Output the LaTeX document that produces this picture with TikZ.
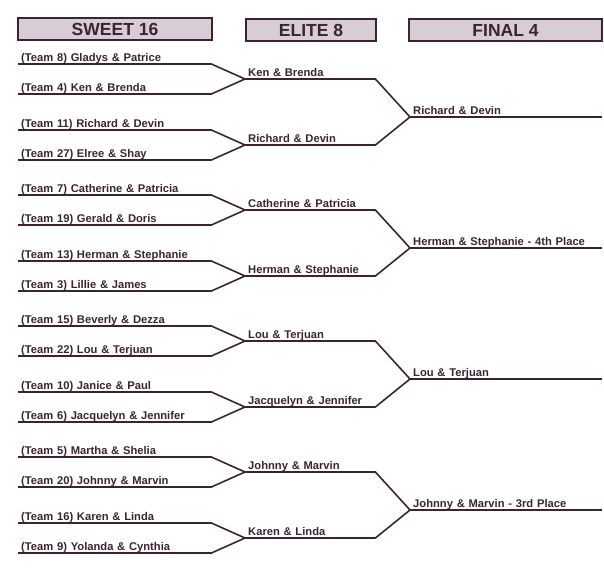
\documentclass[tikz,border=0pt]{standalone}
\usepackage{fontspec}
\setmainfont{Liberation Sans}
\usetikzlibrary{positioning}
\definecolor{ink}{HTML}{3A2430}
\definecolor{boxfill}{HTML}{D8CDD6}

\tikzset{
  slot/.style={anchor=south west,inner xsep=3pt,inner ysep=2.5pt,text height=8.5pt,text depth=0pt,
    font=\fontsize{11.2}{13}\selectfont\bfseries,text=ink,align=left},
  sixteen/.style={slot,minimum width=193pt,text width=187pt},
  eight/.style={slot,minimum width=130pt,text width=124pt},
  four/.style={slot,minimum width=192pt,text width=186pt},
  head/.style={draw=ink,line width=1.6pt,fill=boxfill,inner sep=0pt,text=ink,
    font=\fontsize{17.5}{20}\selectfont\bfseries},
  bline/.style={draw=ink,line width=1.6pt,line join=round}
}

\begin{document}
\begin{tikzpicture}[x=1pt,y=-1pt]
\useasboundingbox (0,0) rectangle (604,567);

\node (h16) [head,minimum width=194pt,minimum height=22pt] at (115,29) {SWEET 16};
\node (h8) [head,minimum width=130pt,minimum height=22pt] at (311,30) {ELITE 8};
\node (h4) [head,minimum width=193pt,minimum height=22pt] at (505.5,30) {FINAL 4};

\node (t8) [sixteen] at (18,64) {(Team 8) Gladys \& Patrice};
\node (t4) [sixteen] at (18,94) {(Team 4) Ken \& Brenda};
\node (t11) [sixteen] at (18,130) {(Team 11) Richard \& Devin};
\node (t27) [sixteen] at (18,160) {(Team 27) Elree \& Shay};
\node (t7) [sixteen] at (18,195) {(Team 7) Catherine \& Patricia};
\node (t19) [sixteen] at (18,225) {(Team 19) Gerald \& Doris};
\node (t13) [sixteen] at (18,261) {(Team 13) Herman \& Stephanie};
\node (t3) [sixteen] at (18,291) {(Team 3) Lillie \& James};
\node (t15) [sixteen] at (18,326) {(Team 15) Beverly \& Dezza};
\node (t22) [sixteen] at (18,356) {(Team 22) Lou \& Terjuan};
\node (t10) [sixteen] at (18,392) {(Team 10) Janice \& Paul};
\node (t6) [sixteen] at (18,422) {(Team 6) Jacquelyn \& Jennifer};
\node (t5) [sixteen] at (18,457) {(Team 5) Martha \& Shelia};
\node (t20) [sixteen] at (18,487) {(Team 20) Johnny \& Marvin};
\node (t16) [sixteen] at (18,523) {(Team 16) Karen \& Linda};
\node (t9) [sixteen] at (18,553) {(Team 9) Yolanda \& Cynthia};

\node (e1) [eight] at (245,79) {Ken \& Brenda};
\node (e2) [eight] at (245,145) {Richard \& Devin};
\node (e3) [eight] at (245,210) {Catherine \& Patricia};
\node (e4) [eight] at (245,276) {Herman \& Stephanie};
\node (e5) [eight] at (245,341) {Lou \& Terjuan};
\node (e6) [eight] at (245,407) {Jacquelyn \& Jennifer};
\node (e7) [eight] at (245,472) {Johnny \& Marvin};
\node (e8) [eight] at (245,538) {Karen \& Linda};

\node (f1) [four] at (410,117) {Richard \& Devin};
\node (f2) [four] at (410,248) {Herman \& Stephanie - 4th Place};
\node (f3) [four] at (410,379) {Lou \& Terjuan};
\node (f4) [four] at (410,510) {Johnny \& Marvin - 3rd Place};

\draw[bline] (t8.south west) -- (t8.south east) -- (e1.south west);
\draw[bline] (t4.south west) -- (t4.south east) -- (e1.south west);
\draw[bline] (t11.south west) -- (t11.south east) -- (e2.south west);
\draw[bline] (t27.south west) -- (t27.south east) -- (e2.south west);
\draw[bline] (t7.south west) -- (t7.south east) -- (e3.south west);
\draw[bline] (t19.south west) -- (t19.south east) -- (e3.south west);
\draw[bline] (t13.south west) -- (t13.south east) -- (e4.south west);
\draw[bline] (t3.south west) -- (t3.south east) -- (e4.south west);
\draw[bline] (t15.south west) -- (t15.south east) -- (e5.south west);
\draw[bline] (t22.south west) -- (t22.south east) -- (e5.south west);
\draw[bline] (t10.south west) -- (t10.south east) -- (e6.south west);
\draw[bline] (t6.south west) -- (t6.south east) -- (e6.south west);
\draw[bline] (t5.south west) -- (t5.south east) -- (e7.south west);
\draw[bline] (t20.south west) -- (t20.south east) -- (e7.south west);
\draw[bline] (t16.south west) -- (t16.south east) -- (e8.south west);
\draw[bline] (t9.south west) -- (t9.south east) -- (e8.south west);

\draw[bline] (e1.south west) -- (e1.south east) -- (f1.south west);
\draw[bline] (e2.south west) -- (e2.south east) -- (f1.south west);
\draw[bline] (e3.south west) -- (e3.south east) -- (f2.south west);
\draw[bline] (e4.south west) -- (e4.south east) -- (f2.south west);
\draw[bline] (e5.south west) -- (e5.south east) -- (f3.south west);
\draw[bline] (e6.south west) -- (e6.south east) -- (f3.south west);
\draw[bline] (e7.south west) -- (e7.south east) -- (f4.south west);
\draw[bline] (e8.south west) -- (e8.south east) -- (f4.south west);
\draw[bline] (f1.south west) -- (f1.south east);
\draw[bline] (f2.south west) -- (f2.south east);
\draw[bline] (f3.south west) -- (f3.south east);
\draw[bline] (f4.south west) -- (f4.south east);
\end{tikzpicture}
\end{document}
